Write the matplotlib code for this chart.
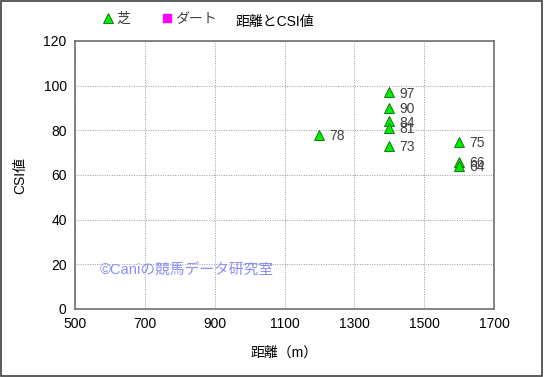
import matplotlib.pyplot as plt
from matplotlib.lines import Line2D

plt.rcParams['font.family'] = ['Liberation Sans', 'Noto Sans CJK JP', 'DejaVu Sans']

# data
turf_dist = [1200, 1400, 1400, 1400, 1400, 1400, 1600, 1600, 1600]
turf_csi = [78, 97, 90, 84, 81, 73, 75, 66, 64]
dirt_dist = []
dirt_csi = []
xticks = [500, 700, 900, 1100, 1300, 1500, 1700]
yticks = [0, 20, 40, 60, 80, 100, 120]

W, H = 545, 377
fig = plt.figure(figsize=(W / 100, H / 100), dpi=100)
fig.patch.set_facecolor('white')
ax = fig.add_axes([75 / W, 1 - 309 / H, (494 - 75) / W, (309 - 41) / H])

ax.plot(turf_dist, turf_csi, linestyle='none', marker='^', markersize=7,
        markerfacecolor='#00ee00', markeredgecolor='#006600', markeredgewidth=0.6, zorder=3)
ax.plot(dirt_dist, dirt_csi, linestyle='none', marker='s', markersize=6,
        markerfacecolor='#ff00ff', markeredgecolor='#ff00ff', zorder=3)
for x, y in zip(turf_dist, turf_csi):
    ax.annotate(str(y), (x, y), xytext=(7, -1), textcoords='offset points',
                va='center', ha='left', fontsize=10, color='#404040')

ax.set_xlim(500, 1700)
ax.set_ylim(0, 120)
ax.set_xticks(xticks)
ax.set_yticks(yticks)
ax.tick_params(length=0, labelsize=10, pad=6)
ax.grid(True, color='#999999', linestyle=(0, (1, 1.5)), linewidth=0.7)
for s in ax.spines.values():
    s.set_color('#707070')
    s.set_linewidth(1.2)

ax.set_xlabel('距離（m）', fontsize=10, labelpad=10)
ax.set_ylabel('CSI値', fontsize=10, labelpad=12)

fig.text(275 / W, 1 - 22 / H, '距離とCSI値', ha='center', va='center', fontsize=10)
ax.text(572, 17, '©Caniの競馬データ研究室', fontsize=10.6, color='#8c8cff', va='center', ha='left')

handles = [
    Line2D([], [], linestyle='none', marker='^', markersize=7,
           markerfacecolor='#00ee00', markeredgecolor='#006600', markeredgewidth=0.6),
    Line2D([], [], linestyle='none', marker='s', markersize=6,
           markerfacecolor='#ff00ff', markeredgecolor='#ff00ff'),
]
fig.legend(handles, ['芝', 'ダート'], loc='center left', bbox_to_anchor=(95 / W, 1 - 19 / H),
           ncol=2, frameon=False, handlelength=0.8, handletextpad=0.2, columnspacing=2.3,
           fontsize=10, labelcolor='#404040', borderpad=0)

# outer frame
fig.add_artist(plt.Rectangle((0.002, 0.003), 0.993, 0.994, transform=fig.transFigure,
                             fill=False, edgecolor='#404040', linewidth=1.2))

plt.savefig('out.png', dpi=100)
